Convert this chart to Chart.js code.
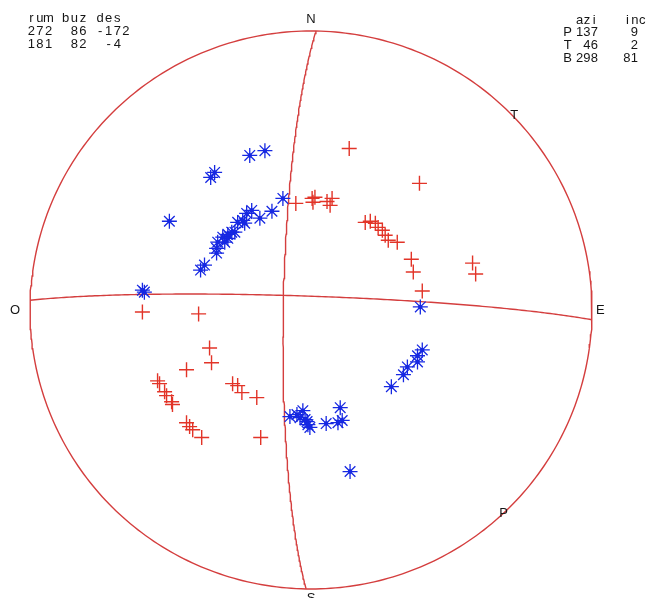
<!DOCTYPE html>
<html>
<head>
<meta charset="utf-8">
<script src="https://cdn.jsdelivr.net/npm/chart.js@4/dist/chart.umd.min.js"></script>
<style>
  html, body { margin: 0; padding: 0; background: #ffffff; }
  #wrap { position: relative; width: 656px; height: 598px; }
</style>
</head>
<body>
<div id="wrap"><canvas id="net"></canvas></div>
<script>
// Nodal planes: strike (rum), dip (buz), rake (des)
const planeStrike = [272, 181];
const planeDip    = [86, 82];
const planeRake   = [-172, -4];

// Principal axes: azimuth and plunge
const axisName = ['P', 'T', 'B'];
const axisAzi  = [137, 46, 298];
const axisInc  = [9, 2, 81];

// Compass letters around the net
const compassName = ['N', 'E', 'S', 'O'];
const compassAzi  = [0, 90, 180, 270];

// Polarity readings, projected positions in units of the net radius
const redX = [0.136, 0.386, -0.054, 0.004, 0.007, 0.014, 0.057, 0.075, 0.068, 0.193,
              0.211, 0.229, 0.239, 0.254, 0.264, 0.275, 0.307, 0.357, 0.364, 0.396,
              0.575, 0.586, -0.600, -0.400, -0.361, -0.354, -0.443, -0.546, -0.539, -0.521,
              -0.514, -0.496, -0.493, -0.443, -0.432, -0.421, -0.389, -0.279, -0.261, -0.246,
              -0.193, -0.179];
const redY = [0.579, 0.454, 0.382, 0.400, 0.386, 0.404, 0.389, 0.400, 0.375, 0.314,
              0.318, 0.311, 0.296, 0.286, 0.268, 0.250, 0.243, 0.182, 0.136, 0.068,
              0.168, 0.129, -0.007, -0.014, -0.136, -0.189, -0.214, -0.254, -0.264, -0.293,
              -0.307, -0.329, -0.339, -0.404, -0.418, -0.429, -0.457, -0.264, -0.271, -0.296,
              -0.314, -0.457];

const blueX = [-0.218, -0.164, -0.343, -0.357, -0.504, -0.100, -0.139, -0.182, -0.211, -0.229,
               -0.243, -0.236, -0.261, -0.271, -0.282, -0.296, -0.296, -0.314, -0.307, -0.332,
               -0.336, -0.336, -0.379, -0.393, -0.600, -0.593, 0.389, 0.396, 0.379, 0.379,
               0.343, 0.329, 0.286, 0.104, 0.111, 0.096, 0.054, -0.029, -0.075, -0.050,
               -0.014, -0.011, -0.004, 0.139, -0.039, -0.021];
const blueY = [0.554, 0.571, 0.493, 0.475, 0.318, 0.400, 0.354, 0.329, 0.357, 0.346,
               0.321, 0.311, 0.314, 0.279, 0.279, 0.271, 0.257, 0.261, 0.243, 0.243,
               0.221, 0.204, 0.161, 0.143, 0.071, 0.064, 0.011, -0.143, -0.164, -0.186,
               -0.204, -0.232, -0.275, -0.350, -0.396, -0.404, -0.407, -0.361, -0.382, -0.375,
               -0.400, -0.411, -0.421, -0.579, -0.386, -0.393];

const RED = 'rgb(226,52,40)';
const LINE = 'rgb(212,62,62)';
const BLUE = 'rgb(22,40,226)';
const rad = Math.PI / 180;

// Lower-hemisphere equal-area projection of a trend/plunge direction
function project(trend, plunge) {
  const r = Math.SQRT2 * Math.sin((90 - plunge) * rad / 2);
  return { x: r * Math.sin(trend * rad), y: r * Math.cos(trend * rad) };
}

// Great circle of a plane given strike and dip (right-hand rule)
function greatCircle(strike, dip) {
  const pts = [];
  const s = strike * rad, dd = (strike + 90) * rad, d = dip * rad;
  for (let t = 0; t <= 180; t += 1) {
    const c = Math.cos(t * rad), sn = Math.sin(t * rad);
    const n = c * Math.cos(s) + sn * Math.cos(d) * Math.cos(dd);
    const e = c * Math.sin(s) + sn * Math.cos(d) * Math.sin(dd);
    const down = sn * Math.sin(d);
    const plunge = Math.asin(Math.max(-1, Math.min(1, down))) / rad;
    const trend = Math.atan2(e, n) / rad;
    pts.push(project(trend, plunge));
  }
  return pts;
}

function primitive() {
  const pts = [];
  for (let a = 0; a <= 360; a += 1) pts.push({ x: Math.sin(a * rad), y: Math.cos(a * rad) });
  return pts;
}

const zip = (xs, ys) => xs.map((x, i) => ({ x, y: ys[i] }));

const lineDs = (data) => ({
  type: 'line', data, showLine: true, borderColor: LINE, borderWidth: 1.4,
  pointRadius: 0, fill: false, tension: 0, order: 5
});

// Draws a string as fixed-pitch cells
function drawCells(ctx, str, x0, y, pitch) {
  for (let i = 0; i < str.length; i++) {
    if (str[i] !== ' ') ctx.fillText(str[i], x0 + pitch * (i + 0.5), y);
  }
}
function drawRight(ctx, str, xRight, y, pitch) {
  drawCells(ctx, str, xRight - pitch * str.length, y, pitch);
}

const labelsPlugin = {
  id: 'netLabels',
  afterDraw(chart) {
    const ctx = chart.ctx;
    const xs = chart.scales.x, ys = chart.scales.y;
    ctx.save();
    ctx.fillStyle = '#151515';
    ctx.textAlign = 'center';
    ctx.textBaseline = 'middle';
    ctx.font = '13px "Liberation Sans", Arial, sans-serif';

    // plane table, top left
    const p = 8.6;
    drawCells(ctx, 'rum buz des', 27, 18, p);
    for (let i = 0; i < planeStrike.length; i++) {
      const y = 31 + i * 13;
      const rake = String(planeRake[i]);
      drawRight(ctx, String(planeStrike[i]), 27 + 3 * p, y, p);
      drawRight(ctx, String(planeDip[i]), 27 + 7 * p, y, p);
      drawCells(ctx, rake, 27 + (rake.length > 2 ? 8 : 9) * p, y, p);
    }

    // axes table, top right
    const q = 7.4;
    drawRight(ctx, 'azi', 598, 20, q);
    drawRight(ctx, 'inc', 646, 20, q);
    for (let i = 0; i < axisName.length; i++) {
      const y = 32 + i * 13;
      drawCells(ctx, axisName[i], 564, y, q);
      drawRight(ctx, String(axisAzi[i]), 598, y, q);
      drawRight(ctx, String(axisInc[i]), 638, y, q);
    }

    // compass letters
    const compassR = [1.04, 1.03, 1.022, 1.053];
    ctx.font = '13px "Liberation Sans", Arial, sans-serif';
    compassName.forEach((n, i) => {
      const a = compassAzi[i] * rad;
      const px = xs.getPixelForValue(compassR[i] * Math.sin(a));
      const py = ys.getPixelForValue(compassR[i] * Math.cos(a));
      ctx.fillText(n, px, py + (i === 2 ? 3 : 0));
    });

    // P and T marked on the rim at their azimuths
    for (let i = 0; i < 2; i++) {
      const a = axisAzi[i] * rad;
      const px = xs.getPixelForValue(Math.sin(a));
      const py = ys.getPixelForValue(Math.cos(a));
      ctx.fillText(axisName[i], px + 1, py - 1);
    }
    ctx.restore();
  }
};

new Chart(document.getElementById('net'), {
  type: 'scatter',
  data: {
    datasets: [
      { data: zip(blueX, blueY), pointStyle: 'circle', pointRadius: 2.2,
        backgroundColor: BLUE, borderColor: BLUE, borderWidth: 0, order: 0 },
      { data: zip(blueX, blueY), pointStyle: 'star', pointRadius: 7.5,
        borderColor: BLUE, backgroundColor: BLUE, borderWidth: 1.3, order: 1 },
      { data: zip(redX, redY), pointStyle: 'cross', pointRadius: 7.5,
        borderColor: RED, backgroundColor: RED, borderWidth: 1.4, order: 2 },
      lineDs(primitive()),
      lineDs(greatCircle(planeStrike[0], planeDip[0])),
      lineDs(greatCircle(planeStrike[1], planeDip[1]))
    ]
  },
  options: {
    responsive: true,
    maintainAspectRatio: false,
    animation: false,
    layout: { padding: 0, autoPadding: false },
    plugins: { legend: { display: false }, tooltip: { enabled: false } },
    elements: { point: { hoverRadius: 0 } },
    scales: {
      x: { type: 'linear', min: -1.1068, max: 1.2278, display: false },
      y: { type: 'linear', min: -1.0323, max: 1.1111, display: false }
    }
  },
  plugins: [labelsPlugin]
});
</script>
</body>
</html>
